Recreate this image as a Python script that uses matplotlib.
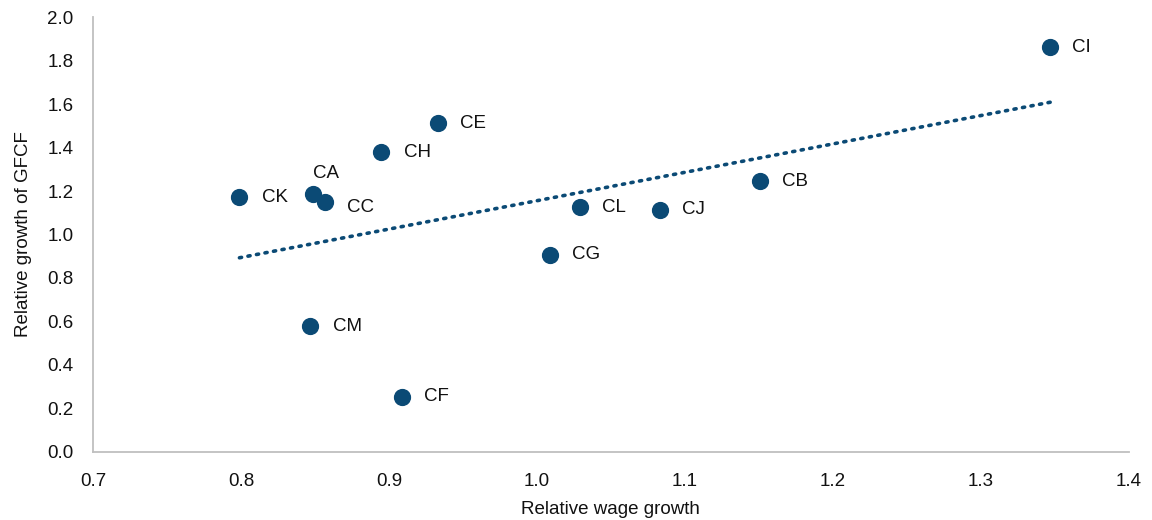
import matplotlib.pyplot as plt
import numpy as np

plt.rcParams['font.family'] = ['Liberation Sans', 'DejaVu Sans']

labels = ['CA', 'CB', 'CC', 'CE', 'CF', 'CG', 'CH', 'CI', 'CJ', 'CK', 'CL', 'CM']
wage = [0.849, 1.151, 0.857, 0.933, 0.909, 1.009, 0.895, 1.347, 1.083, 0.799, 1.029, 0.847]
gfcf = [1.186, 1.246, 1.149, 1.513, 0.253, 0.906, 1.379, 1.862, 1.113, 1.172, 1.126, 0.579]

# label offsets in points (most sit to the right of the marker)
offsets = {'CA': (9, 15), 'CC': (16, -4)}

color = '#0b4a75'

fig = plt.figure(figsize=(11.52, 5.2), dpi=100)
ax = fig.add_axes([0.0807, 0.131, 0.899, 0.836])

ax.scatter(wage, gfcf, s=130, color=color, zorder=3)

# linear trendline
coeffs = np.polyfit(wage, gfcf, 1)
xs = np.array([min(wage), max(wage)])
ax.plot(xs, np.poly1d(coeffs)(xs), color=color, linestyle=(0, (0.6, 1.8)),
        linewidth=2.6, dash_capstyle='round', zorder=2)

for lab, x, y in zip(labels, wage, gfcf):
    dx, dy = offsets.get(lab, (16, 0))
    ha = 'center' if lab == 'CA' else 'left'
    ax.annotate(lab, (x, y), xytext=(dx, dy), textcoords='offset points',
                ha=ha, va='center', fontsize=13.5, color='#111111')

ax.set_xlim(0.7, 1.4)
ax.set_ylim(0, 2.0)
ax.set_xticks(np.arange(0.7, 1.41, 0.1))
ax.set_yticks(np.arange(0, 2.01, 0.2))
ax.xaxis.set_major_formatter(plt.FormatStrFormatter('%.1f'))
ax.yaxis.set_major_formatter(plt.FormatStrFormatter('%.1f'))
ax.tick_params(length=0, labelsize=13.5, colors='#111111')
ax.tick_params(axis='x', pad=15)
ax.tick_params(axis='y', pad=14)

for s in ['top', 'right']:
    ax.spines[s].set_visible(False)
for s in ['left', 'bottom']:
    ax.spines[s].set_color('#bfbfbf')
    ax.spines[s].set_linewidth(1.3)

ax.set_xlabel('Relative wage growth', fontsize=13.5, color='#111111', labelpad=8)
ax.set_ylabel('Relative growth of GFCF', fontsize=13.5, color='#111111', labelpad=11)

plt.savefig('out.png', dpi=100)
